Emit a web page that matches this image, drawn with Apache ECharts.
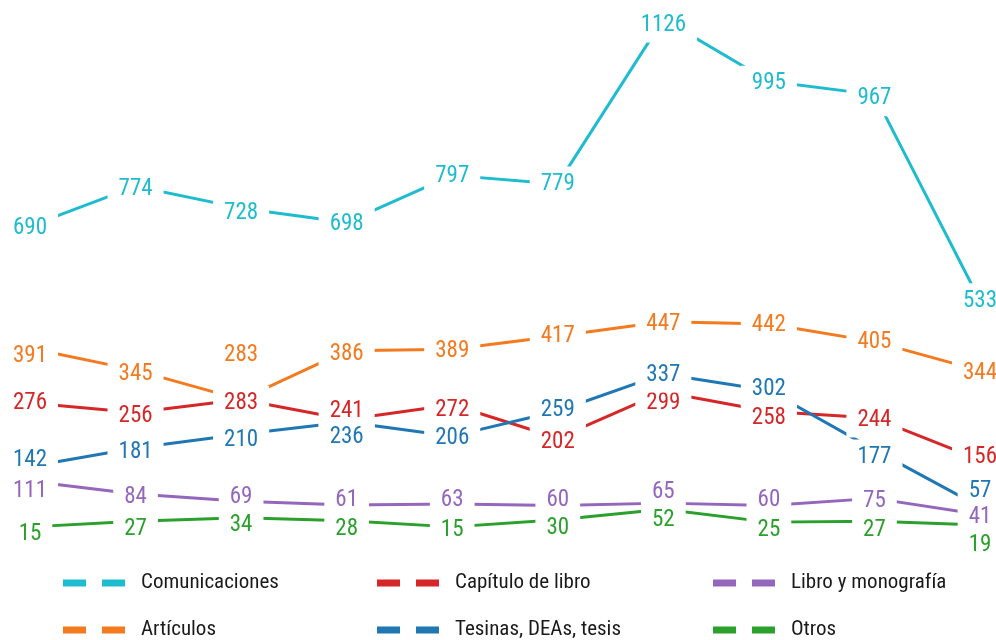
<!DOCTYPE html>
<html>
<head>
<meta charset="utf-8">
<script src="https://cdn.jsdelivr.net/npm/echarts@6.0.0/dist/echarts.min.js"></script>
<style>
  html, body { margin: 0; padding: 0; background: #ffffff; }
  #chart { width: 996px; height: 640px; }
</style>
</head>
<body>
<div id="chart"></div>
<script>
// Ten periods along the horizontal axis (the axis itself is not drawn)
const categories = ['1', '2', '3', '4', '5', '6', '7', '8', '9', '10'];

// Values per publication type
const comunicaciones = [690, 774, 728, 698, 797, 779, 1126, 995, 967, 533];
const articulos      = [391, 345, 283, 386, 389, 417, 447, 442, 405, 344];
const capitulo       = [276, 256, 283, 241, 272, 202, 299, 258, 244, 156];
const tesinas        = [142, 181, 210, 236, 206, 259, 337, 302, 177, 57];
const libro          = [111, 84, 69, 61, 63, 60, 65, 60, 75, 41];
const otros          = [15, 27, 34, 28, 15, 30, 52, 25, 27, 19];

const seriesNames = ['Comunicaciones', 'Artículos', 'Capítulo de libro',
                     'Tesinas, DEAs, tesis', 'Libro y monografía', 'Otros'];

// Vertical nudges (px) for value labels so neighbouring labels stay apart
const labelNudge = {
  comunicaciones: [-1, 0, 2, -1, -2, -3, 3, -1, 1, -3],
  articulos:      [5, 1, -47, 1, -1, -3, 0, -2, -2, 0],
  capitulo:       [-3, 1, 1, -11, 2, 1, 8, 4, -1, -6],
  tesinas:        [-9, 1, 3, 12, -1, -4, -2, -4, 4, -19],
  libro:          [7, 0, -7, -8, -7, -8, -14, -8, 0, 0],
  otros:          [4, 5, 4, 6, 0, 5, 8, 5, 6, 17]
};
// digits sit slightly above the centre of their text box; push them down a touch
const LABEL_BASE_SHIFT = 3;

const colors = ['#1fbccf', '#f37a1f', '#d62728', '#1f77b4', '#9467bd', '#2ca02c'];
const FONT = '"Liberation Sans Narrow", "Roboto Condensed", Roboto, sans-serif';

function makeSeries(name, values, nudge, color, axisIndex) {
  return {
    name: name,
    type: 'line',
    yAxisIndex: axisIndex,
    data: values.map(function (v, i) {
      return { value: v, label: { offset: [0, nudge[i] + LABEL_BASE_SHIFT] } };
    }),
    symbol: 'circle',
    symbolSize: 1,
    showSymbol: true,
    clip: false,
    silent: true,
    lineStyle: { color: color, width: 3 },
    itemStyle: { color: color },
    label: {
      show: true,
      position: 'inside',
      color: color,
      fontFamily: FONT,
      fontSize: 23,
      backgroundColor: '#ffffff',
      padding: [6, 11]
    },
    emphasis: { disabled: true }
  };
}

const series = [
  makeSeries(seriesNames[0], comunicaciones, labelNudge.comunicaciones, colors[0], 1),
  makeSeries(seriesNames[1], articulos, labelNudge.articulos, colors[1], 0),
  makeSeries(seriesNames[2], capitulo, labelNudge.capitulo, colors[2], 0),
  makeSeries(seriesNames[3], tesinas, labelNudge.tesinas, colors[3], 0),
  makeSeries(seriesNames[4], libro, labelNudge.libro, colors[4], 0),
  makeSeries(seriesNames[5], otros, labelNudge.otros, colors[5], 0)
];

// Legend: three columns of two entries, dashed-bar icons
const legendCols = [63, 377, 713];
const legendRows = [571, 618];
const legends = seriesNames.map(function (name, i) {
  return {
    data: [name],
    left: legendCols[Math.floor(i / 2)],
    top: legendRows[i % 2],
    orient: 'vertical',
    padding: 0,
    selectedMode: false,
    icon: 'path://M0,0H23V7H0Z M39,0H62V7H39Z',
    itemWidth: 62,
    itemHeight: 7,
    textStyle: {
      fontFamily: FONT,
      fontSize: 21,
      lineHeight: 24,
      color: '#1a1a1a',
      padding: [0, 0, 0, 11]
    }
  };
});

const chart = echarts.init(document.getElementById('chart'), null, { renderer: 'canvas' });
chart.setOption({
  animation: false,
  backgroundColor: '#ffffff',
  grid: { left: 30, right: 16, top: 11.5, height: 522.5 },
  xAxis: { type: 'category', data: categories, boundaryGap: false, show: false },
  yAxis: [
    { type: 'value', min: 0, max: 1100, show: false },
    { type: 'value', min: 42, max: 1142, show: false }
  ],
  legend: legends,
  series: series
});
</script>
</body>
</html>
